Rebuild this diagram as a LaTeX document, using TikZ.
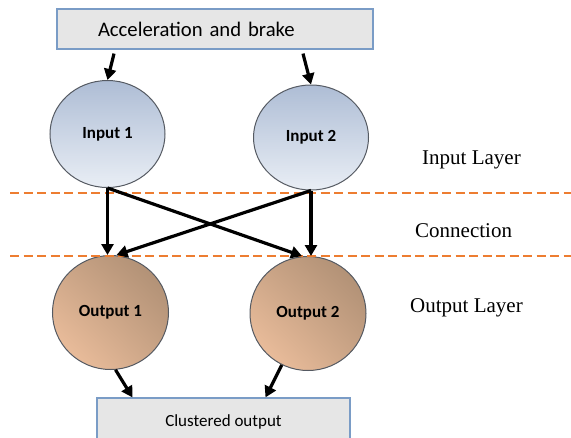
\documentclass[tikz,border=0pt]{standalone}
\usepackage{fontspec}
\setmainfont{Liberation Serif}
\newfontfamily\calfont{Carlito}
\usepackage{tikz}
\usetikzlibrary{arrows.meta,positioning,shapes.geometric,calc,shadings}
\definecolor{boxfill}{HTML}{E6E6E6}
\definecolor{boxline}{HTML}{7A9CC6}
\definecolor{intop}{HTML}{AEBDD5}
\definecolor{inbot}{HTML}{E9EEF5}
\definecolor{outdark}{HTML}{A88A70}
\definecolor{outlight}{HTML}{F5C5A2}
\definecolor{rim}{HTML}{555A62}
\definecolor{sepline}{HTML}{ED7D31}
\tikzset{
  boxnode/.style={
    rectangle, draw=boxline, fill=boxfill, line width=1.2pt,
    font=\calfont\fontsize{#1}{#1}\selectfont, inner sep=0pt
  },
  boxnode/.default=17pt,
  inputnode/.style={
    ellipse, draw=rim, line width=1pt,
    top color=intop, bottom color=inbot,
    minimum width=115pt, minimum height=107pt,
    font=\calfont\bfseries\fontsize{17pt}{17pt}\selectfont
  },
  outputnode/.style={
    ellipse, draw=rim, line width=1pt,
    upper right=outdark, lower left=outlight,
    upper left=outdark!55!outlight, lower right=outdark!55!outlight,
    minimum width=116pt, minimum height=114pt,
    font=\calfont\bfseries\fontsize{17pt}{17pt}\selectfont
  },
  flowarrow/.style={
    -{Triangle[length=11pt,width=12pt]}, line width=3.2pt, black
  },
  layerlabel/.style={
    anchor=west, inner sep=0pt, font=\fontsize{21pt}{24pt}\selectfont
  },
  layerline/.style={
    draw=sepline, line width=2pt, dash pattern=on 9pt off 4.5pt
  },
}

\begin{document}
\begin{tikzpicture}[x=1pt, y=-1pt]

  \clip (0,0) rectangle (571,437);

  % Top and bottom boxes
  \node[boxnode=20.7pt, minimum height=40pt, text width=234pt, inner xsep=41pt,
        align=left] (accel) at (215,29) {Acceleration and brake};
  \node[boxnode, minimum width=253pt, minimum height=48pt] (clus) at (223.5,422) {Clustered output};

  % Input layer
  \node[inputnode] (in1) at (107.5,134) {Input 1};
  \node[inputnode, minimum height=105pt] (in2) at (311,137.5) {Input 2};

  % Output layer
  \node[outputnode] (out1) at (110.5,312.5) {Output 1};
  \node[outputnode] (out2) at (308,313.5) {Output 2};

  % Layer separators
  \draw[layerline] (10,193) -- (571,193);
  \draw[layerline] (10,256) -- (571,256);

  % Layer names on the right
  \node[layerlabel] (lin) at (422,160) {Input Layer};
  \node[layerlabel] (lcon) at (415,231) {Connection};
  \node[layerlabel] (lout) at (410,308) {Output Layer};

  % Input arrows
  \draw[flowarrow] ([xshift=-101pt,yshift=-4pt]accel.south) -- (in1.north);
  \draw[flowarrow] ([xshift=88pt,yshift=-4pt]accel.south) -- (in2.north);

  % Connections between the layers
  \draw[flowarrow] (in1.south) -- (in1.south |- out1.north);
  \draw[flowarrow] (in2.south) -- (in2.south |- out2.north);
  \draw[flowarrow] (in1.south) -- ([xshift=-6pt]out2.north);
  \draw[flowarrow] (in2.south) -- ([xshift=6pt]out1.north);

  % Output arrows
  \draw[flowarrow] (out1.-85) -- ([xshift=-91pt]clus.north);
  \draw[flowarrow] (out2.-117) -- ([xshift=42pt]clus.north);

\end{tikzpicture}
\end{document}
